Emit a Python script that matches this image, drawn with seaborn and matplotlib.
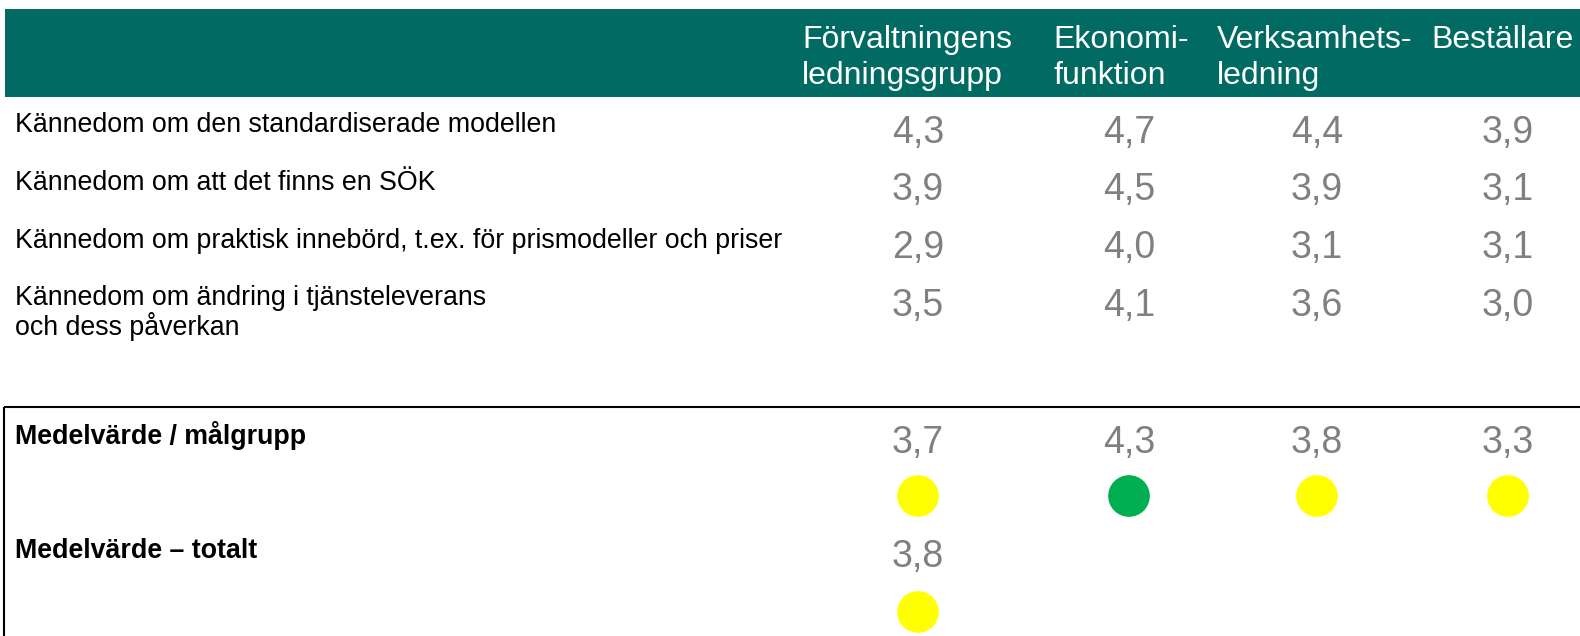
#Imports
import pandas as pd
import matplotlib.pyplot as plt
import seaborn as sns

groups = ['Förvaltningens\nledningsgrupp', 'Ekonomi-\nfunktion', 'Verksamhets-\nledning', 'Beställare']
questions = ['Kännedom om den standardiserade modellen',
             'Kännedom om att det finns en SÖK',
             'Kännedom om praktisk innebörd, t.ex. för prismodeller och priser',
             'Kännedom om ändring i tjänsteleverans\noch dess påverkan']
scores_forv = [4.3, 3.9, 2.9, 3.5]
scores_ekon = [4.7, 4.5, 4.0, 4.1]
scores_verk = [4.4, 3.9, 3.1, 3.6]
scores_best = [3.9, 3.1, 3.1, 3.0]
mean_per_group = [3.7, 4.3, 3.8, 3.3]
mean_total = [3.8]
summary_labels = ['Medelvärde / målgrupp', 'Medelvärde – totalt']

#Layout (pixel coordinates of the 1580x636 canvas)
col_x = [918, 1129, 1317, 1508]
head_x = [802, 1053, 1217, 1431]
row_label_base = [132, 190, 248, 305]
row_num_base = [143, 200, 258, 316]
sum_label_base = [444, 558]
sum_num_base = [453, 567]
dot_y = [496, 612]

def fmt(v):
    return f'{v:.1f}'.replace('.', ',')

def dot_colour(v):
    return 'green' if v >= 4.0 else 'yellow'

sns.set_theme(style='white')
plt.rcParams['font.family'] = ['Liberation Sans', 'DejaVu Sans']

fig = plt.figure(figsize=(15.8, 6.36), dpi=100)
ax = fig.add_axes([0, 0, 1, 1])

#Header bar
ax.add_patch(plt.Rectangle((5, 9), 1575, 88, color='#006A63', lw=0))
for x, g in zip(head_x, groups):
    for i, line in enumerate(g.split('\n')):
        ax.text(x, 48 + 36 * i, line, color='white', fontsize=23, ha='left', va='baseline')

#Question rows
table = [scores_forv, scores_ekon, scores_verk, scores_best]
for r, q in enumerate(questions):
    for i, line in enumerate(q.split('\n')):
        ax.text(15, row_label_base[r] + 30 * i, line, color='black', fontsize=19.3, ha='left', va='baseline')
    for c in range(len(groups)):
        ax.text(col_x[c], row_num_base[r], fmt(table[c][r]), color='#808080', fontsize=27,
                ha='center', va='baseline')

#Summary box
ax.plot([4, 1580], [407, 407], color='black', lw=1.5, solid_capstyle='butt')
ax.plot([4, 4], [407, 636], color='black', lw=1.5, solid_capstyle='butt')

for lab, yb in zip(summary_labels, sum_label_base):
    ax.text(15, yb, lab, color='black', fontsize=19.3, fontweight='bold', ha='left', va='baseline')

for c, v in enumerate(mean_per_group):
    ax.text(col_x[c], sum_num_base[0], fmt(v), color='#808080', fontsize=27, ha='center', va='baseline')
ax.text(col_x[0], sum_num_base[1], fmt(mean_total[0]), color='#808080', fontsize=27, ha='center', va='baseline')

#Traffic light dots
dots = pd.DataFrame({
    'x': col_x + col_x[:1],
    'y': [dot_y[0]] * len(mean_per_group) + [dot_y[1]],
    'status': [dot_colour(v) for v in mean_per_group + mean_total],
})
sns.scatterplot(data=dots, x='x', y='y', hue='status',
                palette={'yellow': '#FFFF00', 'green': '#00B050'},
                s=900, linewidth=0, legend=False, ax=ax)
ax.set_xlim(0, 1580)
ax.set_ylim(636, 0)
ax.axis('off')

fig.savefig('out.png', dpi=100)
